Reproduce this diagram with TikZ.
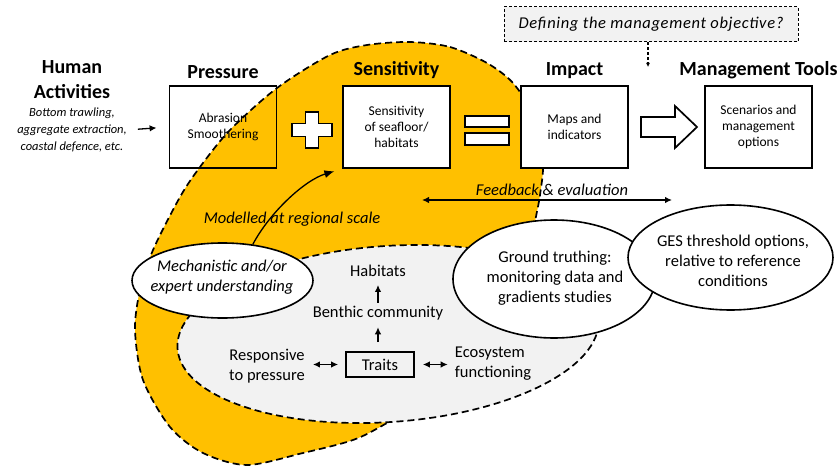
\documentclass[tikz,border=0pt]{standalone}
\usepackage{fontspec}
\setmainfont{Carlito}
\usetikzlibrary{arrows.meta,positioning,shapes.geometric,calc}
\definecolor{blobgold}{HTML}{FFC000}
\definecolor{zonegray}{HTML}{F2F2F2}
\tikzset{
  heading/.style={inner sep=0pt,align=center,font=\fontsize{20}{25}\selectfont\bfseries},
  stagebox/.style={rectangle,draw=black,line width=1.8pt,minimum width=107pt,
    minimum height=82pt,inner sep=0pt,align=center,font=\fontsize{13.5}{16}\selectfont},
  bubble/.style={ellipse,draw=black,line width=1.6pt,fill=white,inner sep=0pt},
  bubbletext/.style={inner sep=0pt,align=center,font=\fontsize{16.5}{20}\selectfont},
  note/.style={inner sep=0pt,align=center,font=\fontsize{16.5}{20}\selectfont\itshape},
  blobline/.style={line width=1.7pt,dash pattern=on 7pt off 4pt},
  signshape/.style={draw=black,fill=white,line width=1.7pt,line join=miter},
  flow/.style={-{Latex[length=7pt,width=6.5pt]},line width=1.3pt},
  twoway/.style={{Latex[length=7pt,width=6.5pt]}-{Latex[length=7pt,width=6.5pt]},line width=1.3pt}
}

\begin{document}
\begin{tikzpicture}[x=1pt,y=-1pt,node distance=6pt]
  \useasboundingbox (0,0) rectangle (838,468);

  % the gold zone and the grey trait zone behind the rest
  \draw[blobline,fill=blobgold] plot[smooth cycle] coordinates {
    (410,42) (450,47) (487,63) (513,83) (533,115) (543,160) (540,195)
    (535,222) (528,265) (505,320) (460,380) (387,423) (353,440) (303,453)
    (247,465) (203,453) (170,427) (143,380) (135,330) (140,290) (153,250)
    (180,197) (200,167) (230,130) (277,88) (330,55) (367,45)};
  \node[ellipse,draw=black,blobline,fill=zonegray,minimum width=422pt,
    minimum height=176pt,rotate=4] (traitzone) at (388,334) {};

  \node[bubble,minimum width=181pt,minimum height=75pt] (mech) at (222.5,280.5) {};
  \node[bubble,minimum width=202pt,minimum height=118pt] (ground) at (554,279) {};
  \node[bubble,minimum width=205pt,minimum height=105pt] (ges) at (730.5,257.5) {};
  \node[note] (mechtext) at (222,277) {Mechanistic and/or\\expert understanding};
  \node[bubbletext] (groundtext) at (555,278) {Ground truthing:\\monitoring data and\\gradients studies};
  \node[bubbletext] (gestext) at (733,261) {GES threshold options,\\relative to reference\\conditions};

  % top row
  \node[heading] (human) at (72,79.5) {Human\\Activities};
  \node[note,font=\fontsize{12.5}{17}\selectfont\itshape] (activities) at (72,130)
    {Bottom trawling,\\aggregate extraction,\\coastal defence, etc.};
  \node[stagebox] (pressure) at (223,127) {Abrasion\\Smoothering};
  \node[stagebox,fill=white] (sensitivity) at (396.5,127) {Sensitivity\\of seafloor/\\habitats};
  \node[stagebox,fill=white] (impact) at (574.5,127) {Maps and\\indicators};
  \node[stagebox,fill=white] (tools) at (758.5,127) {Scenarios and\\management\\options};
  \node[heading,above=6pt of pressure] (pressurehead) {Pressure};
  \node[heading,above=6pt of sensitivity] (sensitivityhead) {Sensitivity};
  \node[heading,above=6pt of impact] (impacthead) {Impact};
  \node[heading,above=6pt of tools] (toolshead) {Management Tools};
  \draw[flow,shorten <=11pt,shorten >=12pt] (activities.east) -- (pressure.west);

  \draw[signshape,shift={(312,130)}] (-20,-6.5) -- (-6.5,-6.5) -- (-6.5,-18) -- (6.5,-18)
    -- (6.5,-6.5) -- (20,-6.5) -- (20,6.5) -- (6.5,6.5) -- (6.5,18) -- (-6.5,18)
    -- (-6.5,6.5) -- (-20,6.5) -- cycle;
  \draw[signshape] (465,116) rectangle (509,127);
  \draw[signshape] (465,133) rectangle (509,145);
  \draw[signshape] (641,117) -- (675,117) -- (675,106) -- (697,127) -- (675,148)
    -- (675,137) -- (641,137) -- cycle;

  \node[note,draw=black,fill=zonegray,line width=1pt,dash pattern=on 3pt off 2pt,
    minimum width=294pt,minimum height=35pt,
    font=\fontsize{16.5}{20}\selectfont\itshape\addfontfeatures{LetterSpace=4}]
    (objective) at (651,24.5) {Defining the management objective?};
  \coordinate (objtip) at (648,67);
  \draw[-{Latex[length=4pt,width=4pt]},line width=1.1pt,dash pattern=on 3pt off 2pt]
    (objective.south -| objtip) -- (objtip);

  % feedback and the regional model
  \coordinate (fbleft) at (422,200);
  \coordinate (fbright) at (672,200);
  \draw[twoway] (fbleft) -- (fbright);
  \node[note] (feedback) at (552,190) {Feedback \& evaluation};
  \node[note] (modelled) at (292,219) {Modelled at regional scale};
  \draw[flow,-{Latex[length=10pt,width=8pt]},shorten >=8pt]
    (mech.50) .. controls (270,212) and (305,180) .. (sensitivity.south west);

  % traits
  \node[bubbletext] (habitats) at (378,271) {Habitats};
  \node[bubbletext] (benthic) at (378,313) {Benthic community};
  \node[bubbletext,draw=black,line width=1.7pt,minimum width=68pt,minimum height=25pt]
    (traits) at (380,364.5) {Traits};
  \node[bubbletext] (responsive) at (267,366) {Responsive\\to pressure};
  \node[bubbletext,align=left] (ecosystem) at (493,364) {Ecosystem\\functioning};
  \draw[flow,shorten <=3pt,shorten >=8pt] (benthic) -- (habitats);
  \draw[flow,shorten <=9pt,shorten >=7pt] (traits.north -| benthic) -- (benthic);
  \draw[twoway,shorten <=8pt,shorten >=7pt] (responsive.east |- traits) -- (traits.west);
  \draw[twoway,shorten <=8pt,shorten >=7pt] (traits.east) -- (ecosystem.west |- traits);
\end{tikzpicture}
\end{document}
